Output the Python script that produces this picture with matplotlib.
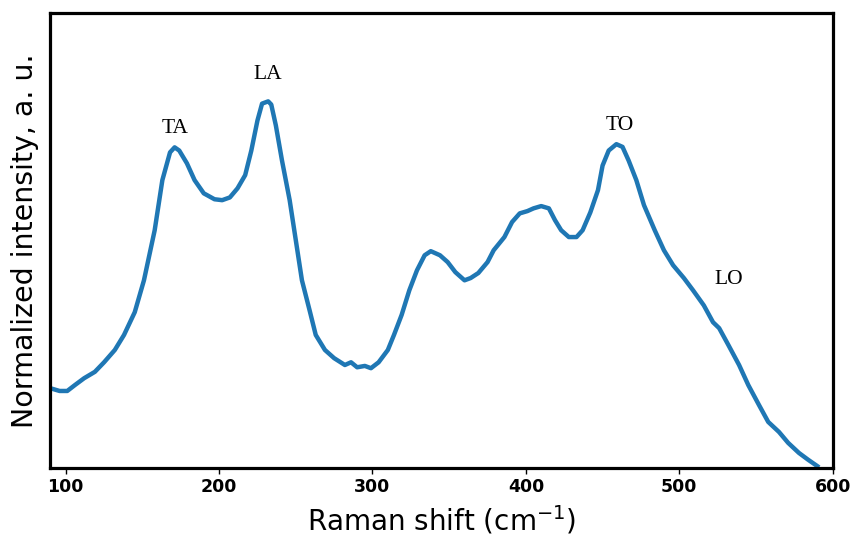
import numpy as np
import matplotlib.pyplot as plt

# Raman spectrum (normalized intensity, 0..1)
shift = [90, 96, 101, 106, 112, 119, 125, 132, 138, 145, 151, 158, 163, 168, 171,
         174, 179, 184, 190, 197, 202, 207, 212, 217, 221, 225, 228, 232, 234, 237,
         241, 246, 250, 254, 259, 263, 269, 275, 282, 286, 290, 295, 299, 304, 310,
         314, 319, 324, 329, 334, 338, 344, 349, 354, 360, 364, 369, 375, 379, 386,
         391, 396, 401, 405, 410, 415, 419, 423, 428, 433, 437, 442, 447, 450, 454,
         459, 463, 467, 472, 477, 484, 490, 496, 503, 509, 516, 522, 526, 532, 539,
         545, 552, 558, 565, 571, 578, 584, 590]
intensity = [0.175, 0.169, 0.169, 0.182, 0.197, 0.211, 0.232, 0.259, 0.292, 0.342,
             0.412, 0.522, 0.632, 0.693, 0.704, 0.697, 0.669, 0.632, 0.603, 0.590,
             0.588, 0.594, 0.614, 0.643, 0.697, 0.763, 0.800, 0.805, 0.798, 0.752,
             0.675, 0.588, 0.500, 0.412, 0.346, 0.292, 0.259, 0.241, 0.226, 0.232,
             0.221, 0.224, 0.219, 0.232, 0.259, 0.292, 0.336, 0.390, 0.434, 0.467,
             0.476, 0.467, 0.452, 0.430, 0.412, 0.417, 0.428, 0.452, 0.478, 0.507,
             0.540, 0.559, 0.564, 0.570, 0.575, 0.570, 0.544, 0.522, 0.507, 0.507,
             0.522, 0.561, 0.610, 0.664, 0.697, 0.711, 0.705, 0.675, 0.632, 0.577,
             0.522, 0.478, 0.445, 0.417, 0.390, 0.357, 0.320, 0.307, 0.270, 0.226,
             0.182, 0.138, 0.101, 0.079, 0.055, 0.033, 0.018, 0.004]

modes = ['TA', 'LA', 'TO', 'LO']
mode_x = [171, 232, 461, 532]
mode_y = [0.745, 0.864, 0.752, 0.414]

fig, ax = plt.subplots(figsize=(8.54, 5.46), dpi=100)
ax.plot(shift, intensity, color='#1f77b4', linewidth=3.2)

for name, mx, my in zip(modes, mode_x, mode_y):
    ax.text(mx, my, name, ha='center', va='center', fontsize=15.5,
            family='Liberation Serif')

ax.set_xlim(90, 600)
ax.set_ylim(0, 1)
ax.set_yticks([])
ax.set_xticks([100, 200, 300, 400, 500, 600])
ax.tick_params(axis='x', labelsize=12.5, width=1, length=4)
for lbl in ax.get_xticklabels():
    lbl.set_fontweight('bold')
for sp in ax.spines.values():
    sp.set_linewidth(2.3)

ax.set_xlabel('Raman shift (cm$^{-1}$)', fontsize=20, labelpad=5)
ax.set_ylabel('Normalized intensity, a. u.', fontsize=20.5, labelpad=8)

fig.subplots_adjust(left=0.059, right=0.975, top=0.977, bottom=0.143)
fig.savefig('out.png')
